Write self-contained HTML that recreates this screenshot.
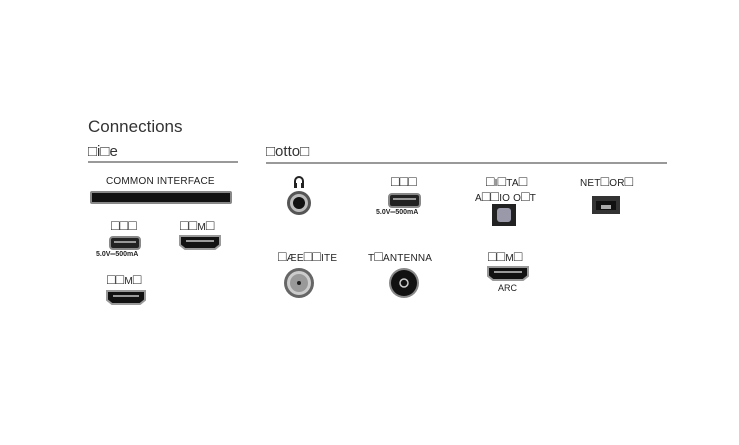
<!DOCTYPE html>
<html><head><meta charset="utf-8"><style>
body{margin:0;width:739px;height:445px;background:#fff;position:relative;overflow:hidden;font-family:"Liberation Sans","DejaVu Sans",sans-serif;color:#222}
.a{position:absolute;white-space:nowrap}
.l{font-size:10px;letter-spacing:0.2px;line-height:12px}
.l b{font-weight:normal;font-size:14px;line-height:10px}
.s{font-size:7px;font-weight:bold}
.usb{position:absolute;background:#222;border:2px solid #888;border-radius:4px;box-sizing:border-box}
.usb:after{content:"";position:absolute;left:3px;right:3px;top:3px;height:2px;background:#999}
</style></head><body>
<div class="a" style="left:88px;top:117px;font-size:17px;color:#333">Connections</div>
<div class="a" style="left:88px;top:143px;font-size:15px;color:#333">□i□e</div>
<div class="a" style="left:88px;top:161px;width:150px;height:2px;background:#999"></div>
<div class="a" style="left:266px;top:143px;font-size:15px;color:#333">□otto□</div>
<div class="a" style="left:266px;top:162px;width:401px;height:2px;background:#999"></div>

<div class="a l" style="left:106px;top:176px">COMMON INTERFACE</div>
<div class="a" style="left:90px;top:191px;width:142px;height:13px;background:#111;border:2px solid #888;border-radius:2px;box-sizing:border-box"></div>

<div class="a l" style="left:111px;top:220px"><b>□□□</b></div>
<div class="usb" style="left:109px;top:236px;width:32px;height:14px"></div>
<div class="a s" style="left:96px;top:251px">5.0V═500mA</div>
<svg class="a" style="left:178px;top:234px" width="44" height="17"><path d="M2 2H42V11L37 15H7L2 11Z" fill="#111" stroke="#999" stroke-width="2"/><rect x="8" y="6" width="28" height="2" fill="#999"/></svg>
<div class="a l" style="left:180px;top:220px"><b>□□</b>M<b>□</b></div>

<div class="a l" style="left:107px;top:274px"><b>□□</b>M<b>□</b></div>
<svg class="a" style="left:105px;top:289px" width="42" height="17"><path d="M2 2H40V11L35 15H7L2 11Z" fill="#111" stroke="#999" stroke-width="2"/><rect x="8" y="6" width="26" height="2" fill="#999"/></svg>

<svg class="a" style="left:293px;top:175px" width="12" height="14"><path d="M2 8V6A4 4 0 0 1 10 6V8" fill="none" stroke="#222" stroke-width="2"/><rect x="1" y="8" width="3" height="5" fill="#222"/><rect x="8" y="8" width="3" height="5" fill="#222"/></svg>
<svg class="a" style="left:285px;top:189px" width="28" height="28"><circle cx="14" cy="14" r="12" fill="#555"/><circle cx="14" cy="14" r="9" fill="#bbb"/><circle cx="14" cy="14" r="6" fill="#111"/></svg>

<div class="a l" style="left:391px;top:176px"><b>□□□</b></div>
<div class="usb" style="left:388px;top:193px;width:33px;height:15px"></div>
<div class="a s" style="left:376px;top:209px">5.0V═500mA</div>

<div class="a l" style="left:486px;top:176px"><b>□</b>I<b>□</b>TA<b>□</b></div>
<div class="a l" style="left:475px;top:191px">A<b>□□</b>IO O<b>□</b>T</div>
<div class="a" style="left:492px;top:204px;width:24px;height:22px;background:#222"></div>
<div class="a" style="left:497px;top:208px;width:14px;height:14px;background:#99a;border-radius:3px"></div>

<div class="a l" style="left:580px;top:176px">NET<b>□</b>OR<b>□</b></div>
<div class="a" style="left:592px;top:196px;width:28px;height:18px;background:#333"></div>
<div class="a" style="left:596px;top:201px;width:20px;height:9px;background:#111"></div>
<div class="a" style="left:601px;top:205px;width:10px;height:4px;background:#aaa"></div>

<div class="a l" style="left:278px;top:251px"><b>□</b>ÆE<b>□□</b>ITE</div>
<svg class="a" style="left:283px;top:267px" width="32" height="32"><circle cx="16" cy="16" r="15" fill="#666"/><circle cx="16" cy="16" r="12" fill="#ccc"/><circle cx="16" cy="16" r="9" fill="#999"/><circle cx="16" cy="16" r="2" fill="#222"/></svg>

<div class="a l" style="left:368px;top:251px">T<b>□</b>ANTENNA</div>
<svg class="a" style="left:388px;top:267px" width="32" height="32"><circle cx="16" cy="16" r="15" fill="#888"/><circle cx="16" cy="16" r="13" fill="#111"/><circle cx="16" cy="16" r="4" fill="none" stroke="#ccc" stroke-width="1.5"/></svg>

<div class="a l" style="left:488px;top:251px"><b>□□</b>M<b>□</b></div>
<svg class="a" style="left:486px;top:265px" width="44" height="17"><path d="M2 2H42V11L37 15H7L2 11Z" fill="#111" stroke="#999" stroke-width="2"/><rect x="8" y="6" width="28" height="2" fill="#999"/></svg>
<div class="a" style="left:498px;top:283px;font-size:9px">ARC</div>
</body></html>
